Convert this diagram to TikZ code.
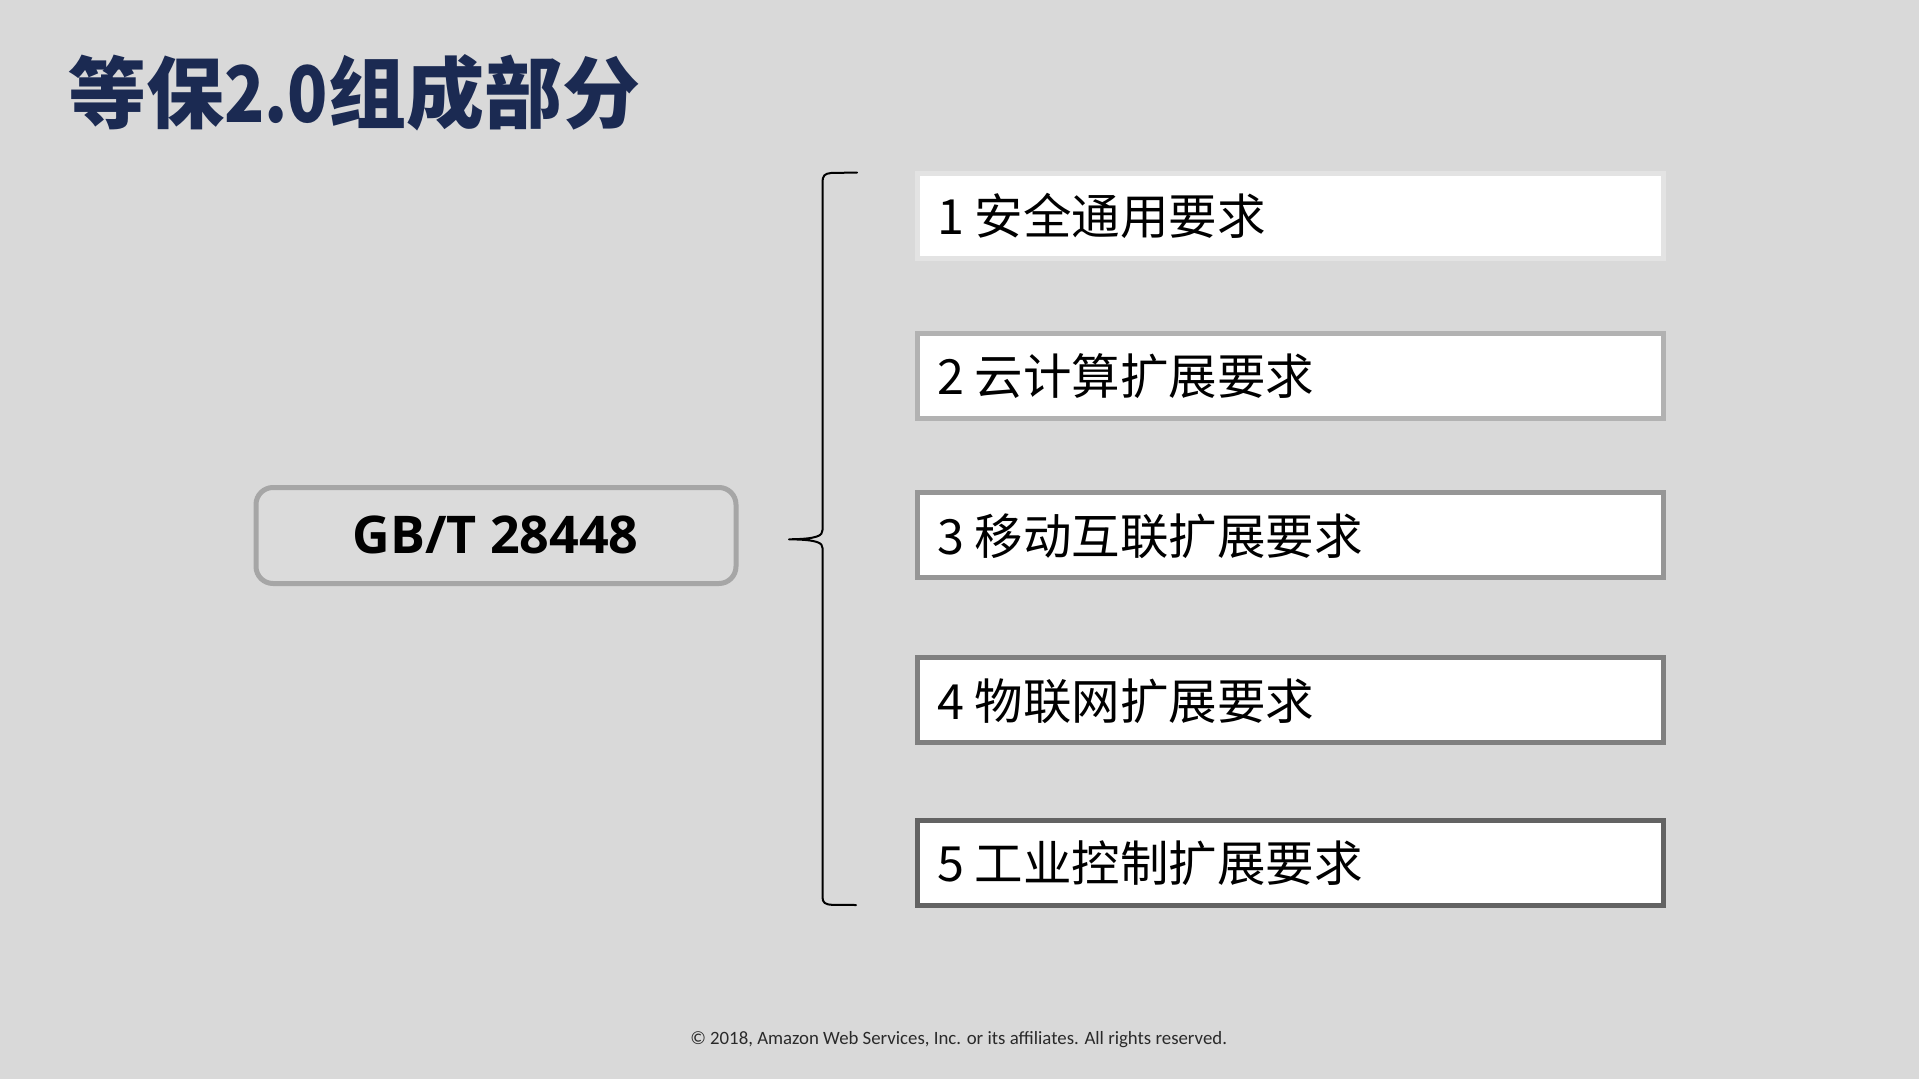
\documentclass[tikz,border=0pt]{standalone}
\usepackage{fontspec}
\newfontfamily\cjk{Noto Sans CJK SC}
\newfontfamily\opensans{Open Sans}
\newfontfamily\carlito{Carlito}
\definecolor{bgc}{HTML}{D9D9D9}
\definecolor{titlec}{HTML}{1B2A52}
\definecolor{bA}{HTML}{E3E3E3}
\definecolor{bB}{HTML}{B2B2B2}
\definecolor{bC}{HTML}{969696}
\definecolor{bD}{HTML}{808080}
\definecolor{bE}{HTML}{636363}
\definecolor{gbborder}{HTML}{A6A6A6}
\definecolor{gbfill}{HTML}{DBDBDB}
\definecolor{footc}{HTML}{2A2A2A}
\tikzset{
  itembox/.style={draw=#1, line width=5pt, fill=white, minimum width=746pt, minimum height=85pt, inner sep=0pt},
  itemtext/.style={anchor=base west, inner sep=0pt, font=\cjk\fontsize{48.5pt}{56pt}\selectfont, text=black},
  bracestyle/.style={draw=black, line width=2pt, line cap=round, line join=round},
}
\begin{document}
\begin{tikzpicture}[x=1pt,y=-1pt]
\fill[bgc] (0,0) rectangle (1919,1079);
\useasboundingbox (0,0) rectangle (1919,1079);

% title
\node[anchor=base west, inner sep=0pt, text=titlec, font=\cjk\bfseries\fontsize{78pt}{90pt}\selectfont] (title) at (68,122) {等保\scalebox{0.85}[1]{2.0}组成部分};

% GB/T box
\node[draw=gbborder, fill=gbfill, line width=5pt, rounded corners=17pt, minimum width=480pt, minimum height=96pt, inner sep=0pt] (gb) at (496,535.5) {};
\node[anchor=base, inner sep=0pt, font=\opensans\bfseries\fontsize{52pt}{60pt}\selectfont] (gbt) at (495.5,553) {GB/T 28448};

% brace
\coordinate (bt) at (857,172.5);
\coordinate (bm) at (789,539.3);
\coordinate (bb) at (856,905);
\draw[bracestyle] (bt) -- (831,173) .. controls (824.5,173.5) and (822.5,176) .. (822.5,182)
  -- (822.5,530) .. controls (822.5,535.5) and (818,539) .. (bm)
  .. controls (818,539.6) and (822.5,543) .. (822.5,548)
  -- (822.5,897) .. controls (822.5,902.5) and (825,904.5) .. (832,904.8) -- (bb);

% item boxes
\node[itembox=bA] (b1) at (1290.5,215.75) {};
\node[itembox=bB] (b2) at (1290.5,375.5) {};
\node[itembox=bC] (b3) at (1290.5,535.4) {};
\node[itembox=bD] (b4) at (1290.5,700.25) {};
\node[itembox=bE] (b5) at (1290.5,862.75) {};

\node[itemtext] (t1) at (937,234.75) {1 安全通用要求};
\node[itemtext] (t2) at (937,394.5) {2 云计算扩展要求};
\node[itemtext] (t3) at (937,554.4) {3 移动互联扩展要求};
\node[itemtext] (t4) at (937,719.25) {4 物联网扩展要求};
\node[itemtext] (t5) at (937,881.75) {5 工业控制扩展要求};

% footer
\node[anchor=base, inner sep=0pt, text=footc, font=\carlito\fontsize{18.8pt}{22pt}\selectfont] (foot) at (958.6,1044.3) {© 2018, Amazon Web Services, Inc. or its affiliates. All rights reserved.};
\end{tikzpicture}
\end{document}
